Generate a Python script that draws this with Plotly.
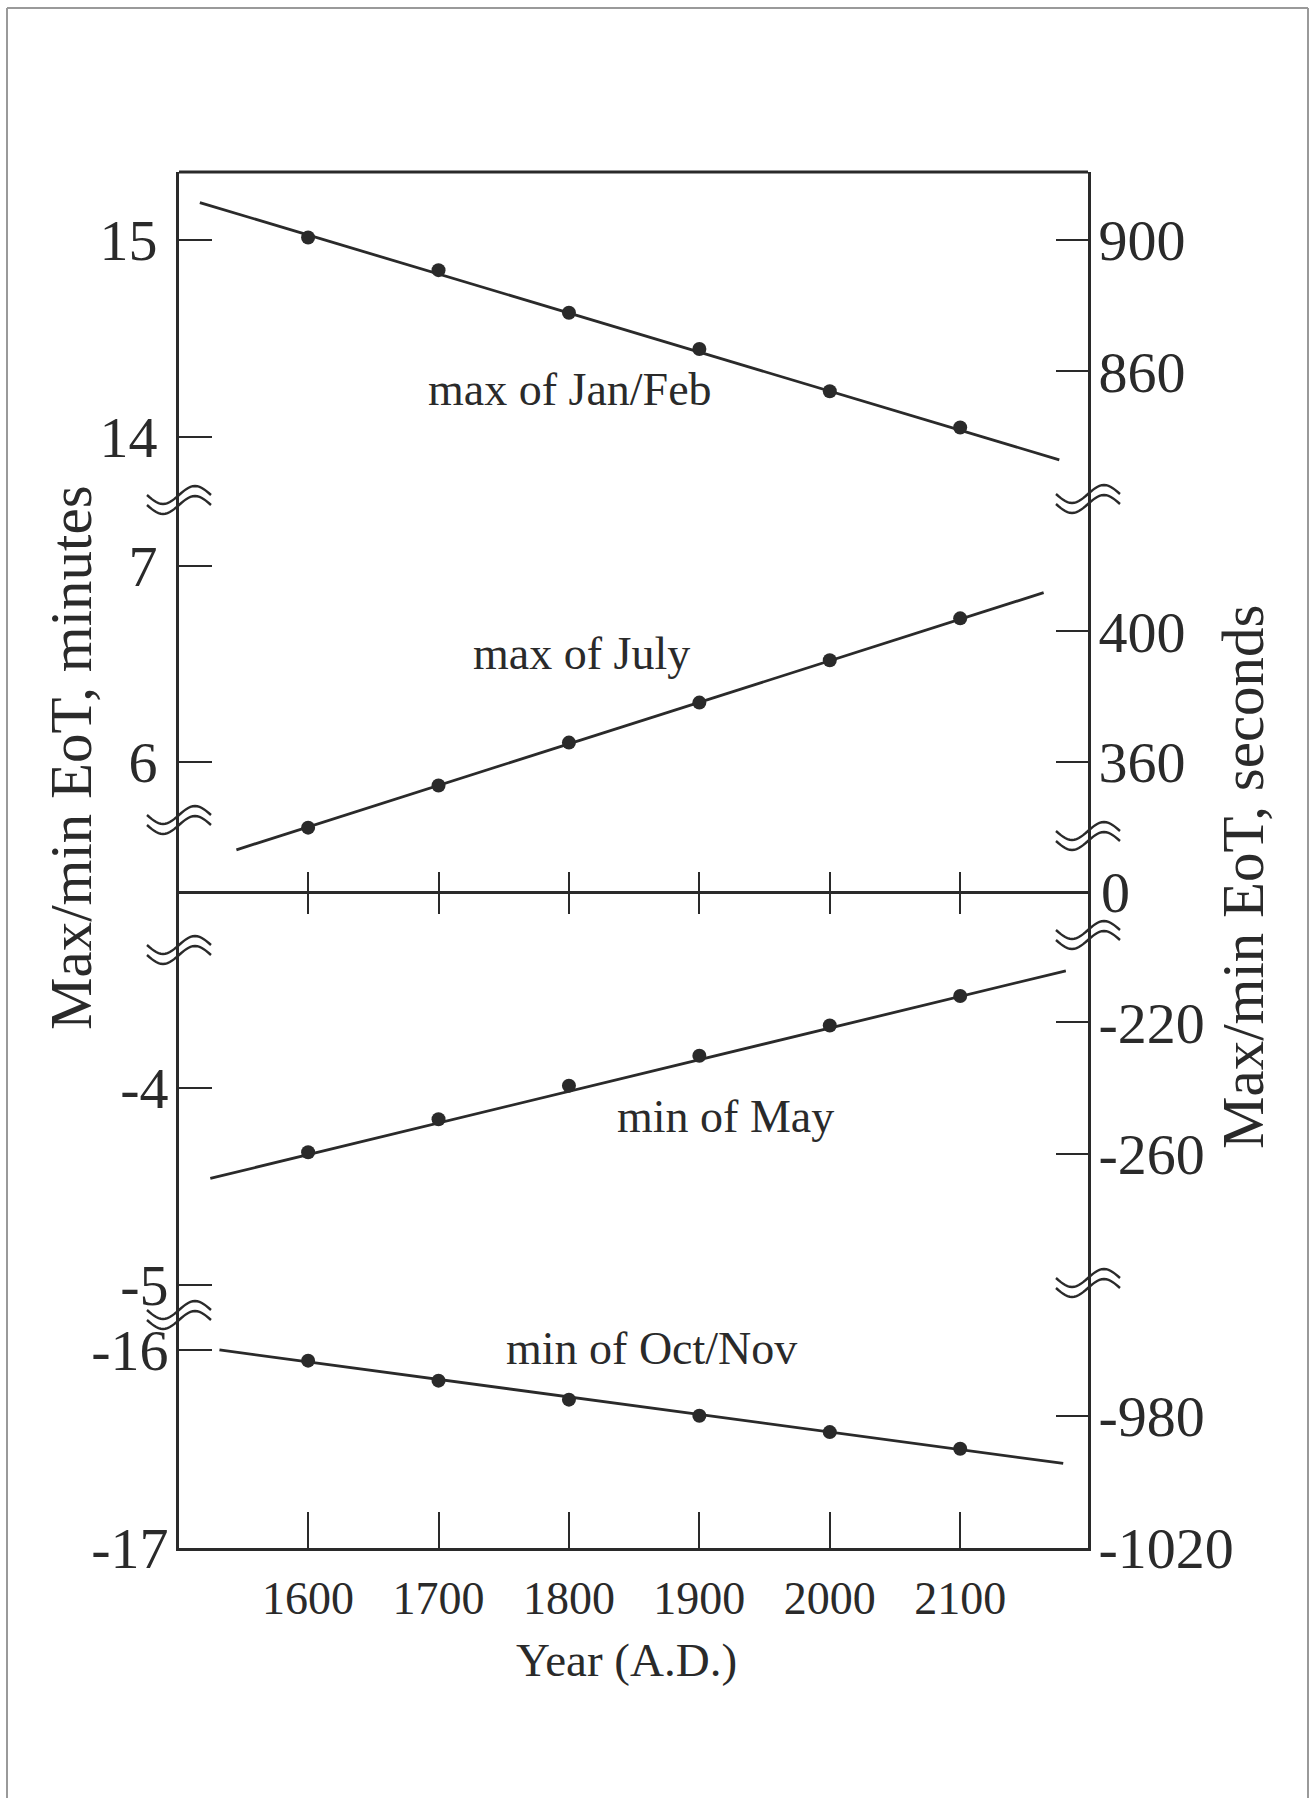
import math
import plotly.graph_objects as go

# ---------------- data ----------------
years = [1600, 1700, 1800, 1900, 2000, 2100]
max_janfeb = [15.013, 14.847, 14.631, 14.447, 14.232, 14.048]   # minutes
max_july = [5.665, 5.880, 6.099, 6.303, 6.519, 6.733]
min_may = [-4.326, -4.159, -3.988, -3.836, -3.683, -3.533]
min_octnov = [-16.054, -16.155, -16.251, -16.332, -16.415, -16.499]

# straight fitted lines: end points (year, minutes)
fit_janfeb_x = [1517, 2176]
fit_janfeb_y = [15.19, 13.884]
fit_july_x = [1545, 2164]
fit_july_y = [5.552, 6.864]
fit_may_x = [1525, 2181]
fit_may_y = [-4.459, -3.405]
fit_octnov_x = [1532, 2179]
fit_octnov_y = [-16.0, -16.573]

series_labels = ["max of Jan/Feb", "max of July", "min of May", "min of Oct/Nov"]

year_ticks = [1600, 1700, 1800, 1900, 2000, 2100]
left_ticks = [[14, 15], [6, 7], [-5, -4], [-17, -16]]            # minutes
right_ticks = [[860, 900], [360, 400], [-260, -220], [-1020, -980]]  # seconds
zero_label = "0"

x_title = "Year (A.D.)"
y_title_left = "Max/min EoT, minutes"
y_title_right = "Max/min EoT, seconds"

# ---------------- layout geometry (pixels) ----------------
W, H = 1312, 1798
PL, PR, PT, PB = 179, 1088, 172, 1548
PW, PH = PR - PL, PB - PT
INK = "#2a2a2a"
FONT = "Liberation Serif"

# segment: top px, bottom px, and two reference (value, px) pairs
SEGS = [
    (172, 500, 15, 240, 14, 437),
    (500, 892, 7, 566, 6, 762),
    (892, 1313, -4, 1088, -5, 1285),
    (1313, 1548, -16, 1350, -17, 1548),
]


def val_at(p, va, pa, vb, pb):
    return va + (p - pa) * (vb - va) / (pb - pa)


def fx(px):
    return (px - PL) / PW


def fy(py):
    return (PB - py) / PH


fig = go.Figure()

data_sets = [
    (max_janfeb, fit_janfeb_x, fit_janfeb_y),
    (max_july, fit_july_x, fit_july_y),
    (min_may, fit_may_x, fit_may_y),
    (min_octnov, fit_octnov_x, fit_octnov_y),
]
for i, (vals, lx, ly) in enumerate(data_sets):
    yref = "y" if i == 0 else f"y{i+1}"
    fig.add_trace(go.Scatter(x=lx, y=ly, mode="lines", yaxis=yref, xaxis="x",
                             line=dict(color=INK, width=2.8), showlegend=False,
                             hoverinfo="skip"))
    fig.add_trace(go.Scatter(x=years, y=vals, mode="markers", yaxis=yref, xaxis="x",
                             marker=dict(color=INK, size=14), showlegend=False,
                             name=series_labels[i]))

layout = dict(
    width=W, height=H,
    margin=dict(l=PL, r=W - PR, t=PT, b=H - PB, autoexpand=False),
    paper_bgcolor="white", plot_bgcolor="white",
    font=dict(family=FONT, color=INK),
    showlegend=False,
)

x_common = dict(range=[1501, 2198], showgrid=False, zeroline=False,
                linecolor=INK, linewidth=2.8, tickcolor=INK, tickwidth=2.4)
layout["xaxis"] = dict(x_common, domain=[0, 1], anchor="y4", side="bottom",
                       showline=True, ticks="inside", ticklen=36,
                       tickvals=year_ticks, ticktext=[str(v) for v in year_ticks],
                       tickfont=dict(family=FONT, size=46, color=INK),
                       ticklabelstandoff=8)
zero_pos = fy(892)
layout["xaxis2"] = dict(x_common, overlaying="x", anchor="free", position=zero_pos,
                        side="bottom", showline=True, ticks="outside", ticklen=20,
                        tickvals=year_ticks, showticklabels=False)
layout["xaxis3"] = dict(x_common, overlaying="x", anchor="free", position=zero_pos,
                        side="bottom", showline=False, ticks="inside", ticklen=20,
                        tickvals=year_ticks, showticklabels=False)

standoff_left = [7, 7, -4, -4]
for i, (top, bot, va, pa, vb, pb) in enumerate(SEGS):
    lo = val_at(bot, va, pa, vb, pb)
    hi = val_at(top, va, pa, vb, pb)
    if i == 3:
        lo -= 0.0005
    dom = [max(0.0, fy(bot)), min(1.0, fy(top))]
    name = "yaxis" if i == 0 else f"yaxis{i+1}"
    layout[name] = dict(domain=dom, range=[lo, hi], anchor="x", side="left",
                        showgrid=False, zeroline=False, showline=True,
                        linecolor=INK, linewidth=2.8, ticks="inside", ticklen=33,
                        tickcolor=INK, tickwidth=2.4,
                        tickvals=left_ticks[i], ticktext=[str(v) for v in left_ticks[i]],
                        tickfont=dict(family=FONT, size=58, color=INK),
                        ticklabelstandoff=standoff_left[i])
    rname = f"yaxis{i+5}"
    base = "y" if i == 0 else f"y{i+1}"
    layout[rname] = dict(overlaying=base, range=[lo * 60, hi * 60], anchor="x",
                         side="right", showgrid=False, zeroline=False, showline=True,
                         linecolor=INK, linewidth=2.8, ticks="inside", ticklen=32,
                         tickcolor=INK, tickwidth=2.4,
                         tickvals=right_ticks[i], ticktext=[str(v) for v in right_ticks[i]],
                         tickfont=dict(family=FONT, size=58, color=INK),
                         ticklabelstandoff=-4)

fig.update_layout(**layout)

# empty traces so the overlay axes are registered and drawn
for i in range(4):
    fig.add_trace(go.Scatter(x=[None], y=[None], yaxis=f"y{i+5}", xaxis="x",
                             showlegend=False, hoverinfo="skip"))
for xa in ("x2", "x3"):
    fig.add_trace(go.Scatter(x=[None], y=[None], xaxis=xa, yaxis="y2",
                             showlegend=False, hoverinfo="skip"))

# ---------------- shapes: frame top, page border, axis breaks ----------------
shapes = []
shapes.append(dict(type="line", xref="paper", yref="paper", x0=0, x1=1, y0=1, y1=1,
                   line=dict(color=INK, width=3.2)))
BORDER = "#9a9a9a"
for (x0, y0, x1, y1) in [(7, 8, 1308, 8), (7, 8, 7, H), (1308, 8, 1308, H)]:
    shapes.append(dict(type="line", xref="paper", yref="paper",
                       x0=fx(x0), y0=fy(y0), x1=fx(x1), y1=fy(y1),
                       line=dict(color=BORDER, width=2)))


def wave_path(cx, cy, half=32, amp=9, n=28):
    pts = []
    for k in range(n + 1):
        t = k / n
        px = cx - half + 2 * half * t
        py = cy + amp * math.sin(2 * math.pi * t)
        pts.append((fx(px), fy(py)))
    return "M " + " L ".join(f"{a:.5f},{b:.5f}" for a, b in pts)


breaks = [(PL, 500), (PL, 820), (PL, 950), (PL, 1315),
          (PR, 499), (PR, 836), (PR, 935), (PR, 1283)]
for cx, cy in breaks:
    for dy in (-5, 5):
        shapes.append(dict(type="path", xref="paper", yref="paper",
                           path=wave_path(cx, cy + dy),
                           line=dict(color=INK, width=2.4)))
fig.update_layout(shapes=shapes)

# ---------------- annotations ----------------
ann = []
label_pos = [(570, 389), (581, 653), (725, 1116), (651, 1348)]
for txt, (px, py) in zip(series_labels, label_pos):
    ann.append(dict(text=txt, xref="paper", yref="paper", x=fx(px), y=fy(py),
                    xanchor="center", yanchor="middle", showarrow=False,
                    font=dict(family=FONT, size=46, color=INK)))
ann.append(dict(text=zero_label, xref="paper", yref="paper", x=fx(1099), y=fy(892),
                xanchor="left", yanchor="middle", showarrow=False,
                font=dict(family=FONT, size=58, color=INK)))
ann.append(dict(text=x_title, xref="paper", yref="paper", x=fx(626), y=fy(1660),
                xanchor="center", yanchor="middle", showarrow=False,
                font=dict(family=FONT, size=47, color=INK)))
ann.append(dict(text=y_title_left, xref="paper", yref="paper", x=fx(71), y=fy(758),
                xanchor="center", yanchor="middle", showarrow=False, textangle=-90,
                font=dict(family=FONT, size=59, color=INK)))
ann.append(dict(text=y_title_right, xref="paper", yref="paper", x=fx(1243), y=fy(877),
                xanchor="center", yanchor="middle", showarrow=False, textangle=-90,
                font=dict(family=FONT, size=59, color=INK)))
fig.update_layout(annotations=ann)

fig.write_html("out.html", config={"displayModeBar": False},
               post_script="document.body.style.margin='0px';")
